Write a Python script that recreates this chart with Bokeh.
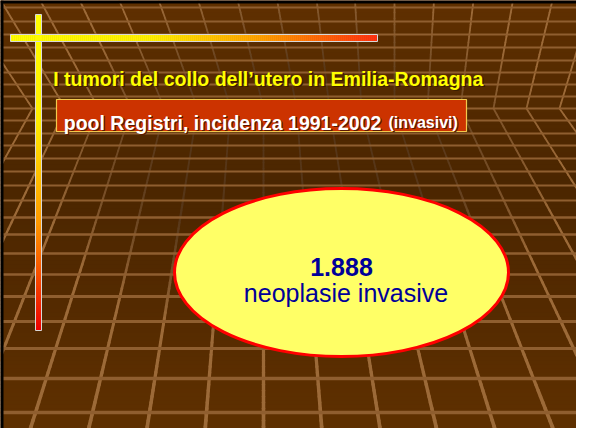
import numpy as np
from bokeh.plotting import figure
from bokeh.models import Range1d
from bokeh.embed import file_html
from bokeh.resources import INLINE
from bokeh.core.properties import value

# ---------------- content ----------------
title_text = "I tumori del collo dell\u2019utero in Emilia-Romagna"
box_text = "pool Registri, incidenza 1991-2002"
box_note = "(invasivi)"
total_cases = "1.888"
total_caption = "neoplasie invasive"

# background perspective grid (slide pixel units, 592 x 444)
grid_rows_y = [7, 21, 34, 47, 60, 72, 84, 96, 108, 120, 133, 145, 158, 171,
               185, 200, 217, 234, 253, 274, 296, 321, 348, 378, 412]
grid_fold_x = [-34, -1, 32, 65, 98, 131, 164, 197, 230, 263, 296, 329, 361,
               394, 427, 460, 493, 526, 559, 592, 625]
grid_fold_y = 108
upper_vp = [394, 657]
lower_vp = [263, -310]

bg_stop_y = [0, 60, 180, 300, 444]
bg_stop_rgb = [(96, 48, 0), (88, 44, 0), (75, 38, 0), (84, 42, 0), (96, 49, 0)]

vbar_stop_y = [14, 120, 222, 330]
vbar_stop_rgb = [(255, 255, 0), (255, 236, 0), (255, 153, 0), (238, 0, 0)]
hbar_stop_x = [10, 150, 260, 377]
hbar_stop_rgb = [(255, 255, 0), (255, 240, 0), (255, 160, 0), (255, 48, 16)]

SLIDE_W, SLIDE_H = 592, 444
VIEW_W, VIEW_H = 576, 428


def hexc(rgb):
    return "#%02x%02x%02x" % tuple(int(round(max(0, min(255, c)))) for c in rgb)


def interp_rgb(v, stops, rgbs):
    arr = np.array(rgbs, dtype=float)
    return tuple(np.interp(v, stops, arr[:, i]) for i in range(3))


p = figure(width=VIEW_W, height=VIEW_H, x_range=Range1d(0, VIEW_W), y_range=Range1d(VIEW_H, 0),
           output_backend="svg", toolbar_location=None, min_border=0,
           x_axis_location=None, y_axis_location=None)
p.grid.grid_line_color = None
p.background_fill_color = "#4e2700"
p.border_fill_color = "#4e2700"
p.outline_line_color = None

# ---- background gradient ----
ys = np.arange(0, SLIDE_H, 4.0)
p.quad(left=0, right=SLIDE_W, bottom=list(ys), top=list(ys + 4.6),
       fill_color=[hexc(interp_rgb(y + 2, bg_stop_y, bg_stop_rgb)) for y in ys],
       line_color=None)

# ---- slanted grid lines (upper and lower fans meeting at the fold) ----
dark = np.array([86, 54, 24.0])
bright = np.array([156, 106, 56.0])


def shade(xm, ym):
    dy = (ym - 175) / (190 if ym < 175 else 165)
    t = np.hypot((xm - 300) / 250.0, dy)
    f = np.clip((t - 0.55) / 0.5, 0, 1)
    return hexc(dark + (bright - dark) * f)


def width_at(y):
    return 1.8 + max(0.0, y - 150) * 0.0068


sx0, sy0, sx1, sy1, scol, swid = [], [], [], [], [], []
for xk in grid_fold_x:
    yy = np.linspace(0, grid_fold_y, 19)
    xx = upper_vp[0] + (xk - upper_vp[0]) * (upper_vp[1] - yy) / (upper_vp[1] - grid_fold_y)
    yl = np.linspace(grid_fold_y, SLIDE_H, 57)
    xl = lower_vp[0] + (xk - lower_vp[0]) * (yl - lower_vp[1]) / (grid_fold_y - lower_vp[1])
    for X, Y in ((xx, yy), (xl, yl)):
        for i in range(len(X) - 1):
            sx0.append(X[i]); sy0.append(Y[i]); sx1.append(X[i + 1]); sy1.append(Y[i + 1])
            xm, ym = (X[i] + X[i + 1]) / 2, (Y[i] + Y[i + 1]) / 2
            scol.append(shade(xm, ym))
            swid.append(width_at(ym))
p.segment(x0=sx0, y0=sy0, x1=sx1, y1=sy1, line_color=scol, line_width=swid, line_cap="round")

# ---- horizontal grid lines ----
n = len(grid_rows_y)
p.segment(x0=[0] * n, x1=[SLIDE_W] * n, y0=grid_rows_y, y1=grid_rows_y,
          line_color="#8f5e2f", line_width=[width_at(y) for y in grid_rows_y])

# ---- slide frame (black edge on left and top) ----
p.quad(left=0, right=3, bottom=0, top=SLIDE_H, fill_color="black", line_color=None)
p.quad(left=0, right=SLIDE_W, bottom=0, top=3, fill_color="black", line_color=None)

# ---- vertical gradient bar ----
vy = np.arange(vbar_stop_y[0], vbar_stop_y[-1], 2.0)
p.quad(left=35, right=41, bottom=list(vy), top=list(np.minimum(vy + 2.4, vbar_stop_y[-1])),
       fill_color=[hexc(interp_rgb(y + 1, vbar_stop_y, vbar_stop_rgb)) for y in vy], line_color=None)
p.quad(left=35, right=41, bottom=vbar_stop_y[0], top=vbar_stop_y[-1],
       fill_color=None, line_color="#d8d8d8", line_width=1)

# ---- horizontal gradient bar ----
hx = np.arange(hbar_stop_x[0], hbar_stop_x[-1], 2.0)
p.quad(left=list(hx), right=list(np.minimum(hx + 2.4, hbar_stop_x[-1])), bottom=34, top=41,
       fill_color=[hexc(interp_rgb(x + 1, hbar_stop_x, hbar_stop_rgb)) for x in hx], line_color=None)
p.quad(left=hbar_stop_x[0], right=hbar_stop_x[-1], bottom=34, top=41,
       fill_color=None, line_color="#d8d8d8", line_width=1)

FONT = value("Liberation Sans")

# ---- title ----
p.text(x=[54.2], y=[79.8], text=[title_text], text_font=FONT, text_font_size="19.5px",
       text_font_style="bold", text_color="#3a1c00", text_baseline="alphabetic", text_align="left")
p.text(x=[52.7], y=[78.3], text=[title_text], text_font=FONT, text_font_size="19.5px",
       text_font_style="bold", text_color="#ffff00", text_baseline="alphabetic", text_align="left")

# ---- red label box ----
p.quad(left=56, right=466, top=99, bottom=131, fill_color="#cc3300",
       line_color="#f2c94c", line_width=1.2)
for dx, col in ((1.3, "#5a1800"), (0, "#ffffff")):
    p.text(x=[63.3 + dx], y=[122 + dx], text=[box_text], text_font=FONT, text_font_size="19.5px",
           text_font_style="bold", text_color=col, text_baseline="alphabetic", text_align="left")
    p.text(x=[388 + dx], y=[122 + dx], text=[box_note], text_font=FONT, text_font_size="16px",
           text_font_style="bold", text_color=col, text_baseline="alphabetic", text_align="left")

# ---- ellipse with total ----
p.ellipse(x=[341], y=[272], width=[334], height=[168], width_units="screen", height_units="screen",
          fill_color="#ffff66", line_color="#ff0000", line_width=3)
p.text(x=[341], y=[266.7], text=[total_cases], text_font=FONT, text_font_size="25px",
       text_font_style="bold", text_color="#000099", text_baseline="alphabetic", text_align="center")
p.text(x=[345.5], y=[292.7], text=[total_caption], text_font=FONT, text_font_size="25px",
       text_color="#000099", text_baseline="alphabetic", text_align="center")

open("out.html", "w").write(file_html(p, INLINE))
